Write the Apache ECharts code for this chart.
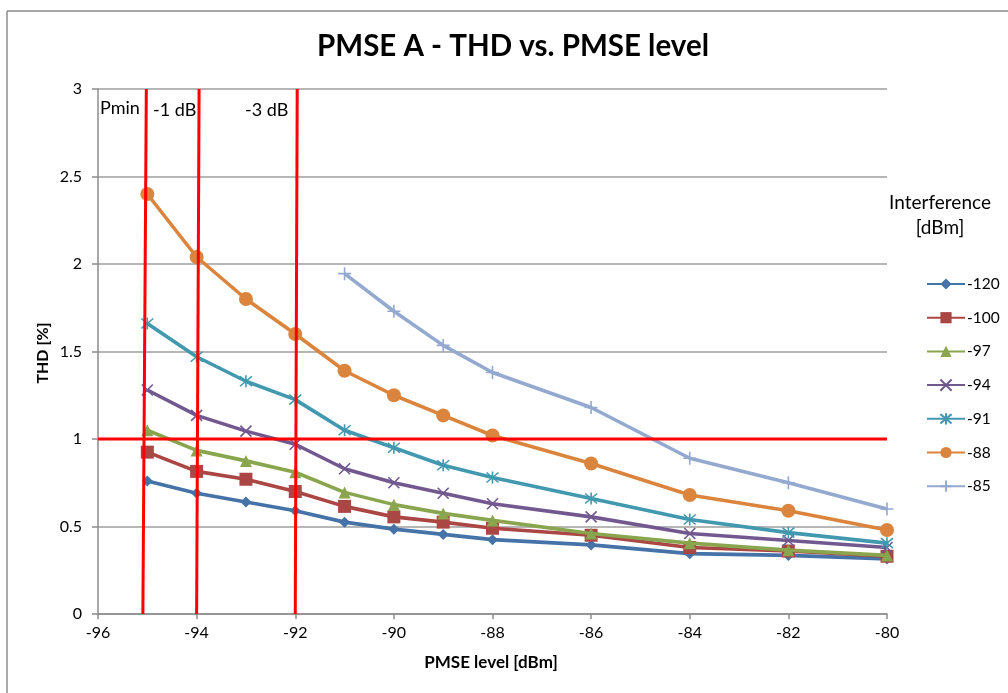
<!DOCTYPE html>
<html>
<head>
<meta charset="utf-8">
<script src="https://cdn.jsdelivr.net/npm/echarts@6/dist/echarts.min.js"></script>
<style>
html,body{margin:0;padding:0;background:#fff;}
#chart{width:1008px;height:693px;}
</style>
</head>
<body>
<div id="chart"></div>
<script>
// ---- data ----
const pmseLevel = [-95, -94, -93, -92, -91, -90, -89, -88, -86, -84, -82, -80];
const seriesNames = ['-120', '-100', '-97', '-94', '-91', '-88', '-85'];
const thd120 = [0.76, 0.69, 0.64, 0.59, 0.525, 0.485, 0.455, 0.425, 0.395, 0.345, 0.335, 0.315];
const thd100 = [0.925, 0.815, 0.77, 0.70, 0.615, 0.555, 0.525, 0.49, 0.45, 0.38, 0.36, 0.33];
const thd97  = [1.05, 0.935, 0.875, 0.81, 0.695, 0.625, 0.575, 0.535, 0.46, 0.405, 0.365, 0.335];
const thd94  = [1.28, 1.135, 1.045, 0.97, 0.83, 0.75, 0.69, 0.63, 0.555, 0.46, 0.42, 0.38];
const thd91  = [1.66, 1.47, 1.33, 1.225, 1.05, 0.95, 0.85, 0.78, 0.66, 0.54, 0.465, 0.405];
const thd88  = [2.40, 2.04, 1.80, 1.60, 1.39, 1.25, 1.135, 1.02, 0.86, 0.68, 0.59, 0.48];
const thd85  = [null, null, null, null, 1.945, 1.73, 1.535, 1.38, 1.18, 0.89, 0.75, 0.60];
// reference lines (red)
const pminLine = [[-95.09, 0], [-95.02, 3]];
const minus1Line = [[-94.0, 0], [-93.95, 3]];
const minus3Line = [[-92.0, 0], [-91.96, 3]];
const thdLimitLine = [[-96, 1], [-80, 1]];
const refLabels = ['Pmin', '-1 dB', '-3 dB'];
const xTicks = {min: -96, max: -80, interval: 2};
const yTicks = {min: 0, max: 3, interval: 0.5};

const FONT = 'Lato, "Noto Sans", sans-serif';
const colors = ['#4572A7', '#AA4643', '#89A54E', '#71588F', '#4198AF', '#DB843D', '#93A9CF'];
const symbols = [
  'diamond',
  'rect',
  'triangle',
  'path://M0,0L20,20M20,0L0,20',
  'path://M0,0L20,20M20,0L0,20M10,-2L10,22',
  'circle',
  'path://M10,0L10,20M0,10L20,10'
];
const symbolSizes = [11, 13, 12, 11, 12, 14, 13];
const strokeSymbols = [false, false, false, true, true, false, true];
const allData = [thd120, thd100, thd97, thd94, thd91, thd88, thd85];

function pairs(ys) { return pmseLevel.map((x, i) => [x, ys[i]]); }

const series = allData.map((ys, i) => ({
  name: seriesNames[i],
  type: 'line',
  data: pairs(ys),
  connectNulls: false,
  symbol: symbols[i],
  symbolSize: symbolSizes[i],
  showAllSymbol: true,
  lineStyle: {color: colors[i], width: 3.6},
  itemStyle: strokeSymbols[i]
    ? {color: colors[i], borderColor: colors[i], borderWidth: 1.6}
    : {color: colors[i], borderWidth: 0},
  emphasis: {disabled: true},
  z: 2 + i
}));

[pminLine, minus1Line, minus3Line, thdLimitLine].forEach((d, k) => {
  series.push({
    name: 'ref' + k,
    type: 'line',
    data: d,
    symbol: 'none',
    lineStyle: {color: '#FF0000', width: 3},
    emphasis: {disabled: true},
    silent: true,
    z: 20
  });
});

const chart = echarts.init(document.getElementById('chart'), null, {renderer: 'canvas'});
const option = {
  animation: false,
  backgroundColor: '#ffffff',
  grid: {left: 98, right: 121, top: 89, bottom: 79, containLabel: false},
  xAxis: {
    type: 'value', min: xTicks.min, max: xTicks.max, interval: xTicks.interval,
    axisLine: {show: true, onZero: false, lineStyle: {color: '#8c8c8c', width: 1.5}},
    axisTick: {show: true, length: 5, lineStyle: {color: '#8c8c8c', width: 1.5}},
    axisLabel: {color: '#000', fontFamily: FONT, fontSize: 16, margin: 11},
    splitLine: {show: false}
  },
  yAxis: {
    type: 'value', min: yTicks.min, max: yTicks.max, interval: yTicks.interval,
    axisLine: {show: true, lineStyle: {color: '#8c8c8c', width: 1.5}},
    axisTick: {show: true, length: 6, lineStyle: {color: '#8c8c8c', width: 1.5}},
    axisLabel: {color: '#000', fontFamily: FONT, fontSize: 16, margin: 16},
    splitLine: {show: true, lineStyle: {color: '#9e9e9e', width: 1.5}}
  },
  legend: {
    data: seriesNames,
    orient: 'vertical',
    left: 926, top: 276, padding: 0,
    itemWidth: 38, itemHeight: 14, itemGap: 17.7,
    textStyle: {fontFamily: FONT, fontSize: 15.5, lineHeight: 14, color: '#000', padding: [0, 0, 0, -3]},
    selectedMode: false
  },
  graphic: [
    {type: 'line', shape: {x1: 7, y1: 11, x2: 1008, y2: 11}, style: {stroke: '#8c8c8c', lineWidth: 1.5}, silent: true},
    {type: 'line', shape: {x1: 7, y1: 11, x2: 7, y2: 693}, style: {stroke: '#8c8c8c', lineWidth: 1.5}, silent: true},
    {type: 'text', x: 513, y: 46, style: {text: 'PMSE A - THD vs. PMSE level', fontFamily: FONT, fontSize: 29.5, fontWeight: 'bold', fill: '#000', textAlign: 'center', textVerticalAlign: 'middle'}},
    {type: 'text', x: 43, y: 353, rotation: Math.PI / 2, style: {text: 'THD [%]', fontFamily: FONT, fontSize: 16, fontWeight: 'bold', fill: '#000', textAlign: 'center', textVerticalAlign: 'middle'}},
    {type: 'text', x: 491, y: 663, style: {text: 'PMSE level [dBm]', fontFamily: FONT, fontSize: 17, fontWeight: 'bold', fill: '#000', textAlign: 'center', textVerticalAlign: 'middle'}},
    {type: 'text', x: 940, y: 203, style: {text: 'Interference', fontFamily: FONT, fontSize: 19, fill: '#000', textAlign: 'center', textVerticalAlign: 'middle'}},
    {type: 'text', x: 940, y: 228, style: {text: '[dBm]', fontFamily: FONT, fontSize: 19, fill: '#000', textAlign: 'center', textVerticalAlign: 'middle'}},
    {type: 'text', x: 100, y: 108, style: {text: refLabels[0], fontFamily: FONT, fontSize: 18, fill: '#000', textAlign: 'left', textVerticalAlign: 'middle'}},
    {type: 'text', x: 153, y: 110, style: {text: refLabels[1], fontFamily: FONT, fontSize: 18, fill: '#000', textAlign: 'left', textVerticalAlign: 'middle'}},
    {type: 'text', x: 245, y: 110, style: {text: refLabels[2], fontFamily: FONT, fontSize: 18, fill: '#000', textAlign: 'left', textVerticalAlign: 'middle'}}
  ],
  series: series
};
chart.setOption(option);
</script>
</body>
</html>
